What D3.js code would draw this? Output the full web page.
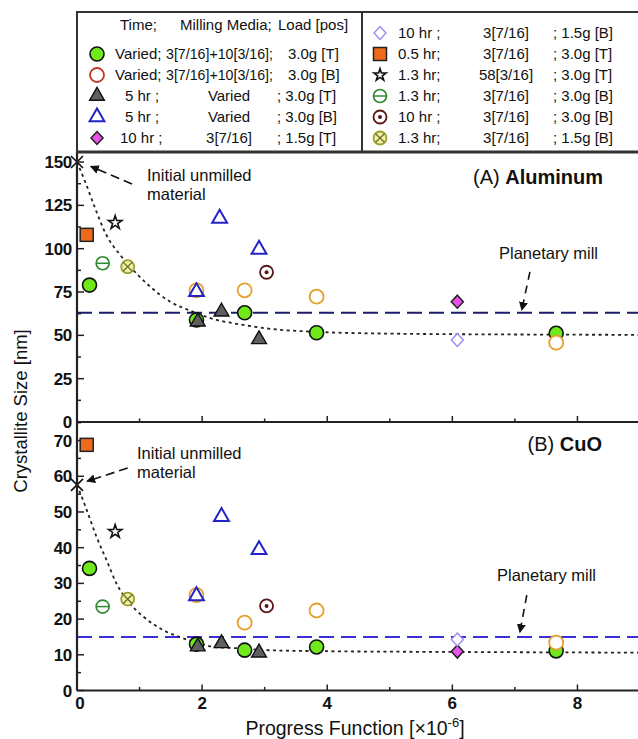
<!DOCTYPE html>
<html>
<head>
<meta charset="utf-8">
<script src="https://cdn.jsdelivr.net/npm/d3@7"></script>
<style>
  body { margin: 0; background: #fff; }
  svg text { font-family: "Liberation Sans", Arial, Helvetica, sans-serif; fill: #111; }
</style>
</head>
<body>
<div id="chart"></div>
<script>
// ---- data ----
// (A) Aluminum, crystallite size [nm] vs progress function [x1e-6]
var al_variedT = [[0.2, 79], [1.91, 58.9], [2.68, 63], [3.83, 51.5], [7.66, 51.2]];
var al_variedB = [[1.91, 76], [2.68, 76], [3.83, 72.3], [7.66, 45.8]];
var al_5hrT = [[1.93, 57.9], [2.31, 63.6], [2.91, 47.7]];
var al_5hrB = [[1.91, 75.2], [2.28, 117.5], [2.91, 99.6]];
var al_10hrT15 = [[6.08, 69.4]];
var al_10hrB15 = [[6.08, 47.3]];
var al_05hrT = [[0.155, 108]];
var al_13hrStar = [[0.61, 115]];
var al_13hrB = [[0.41, 91.6]];
var al_10hrB = [[3.03, 86.4]];
var al_13hrB15 = [[0.81, 89.6]];
var al_initial = [[0, 150]];
var al_fit = [[0, 150], [0.13, 138.7], [0.29, 123.3], [0.47, 107.9], [0.69, 96.4], [0.85, 89.6],
  [1.17, 78.1], [1.49, 69.4], [1.86, 63.6], [2.23, 58.9], [2.5, 57], [3.03, 54], [3.83, 52],
  [5, 51], [7, 50.5], [9, 50.3]];
var al_planetary = 63;

// (B) CuO
var cuo_variedT = [[0.2, 34.2], [1.91, 13], [2.68, 11.3], [3.83, 12.2], [7.66, 11.1]];
var cuo_variedB = [[1.91, 26.7], [2.68, 19], [3.83, 22.4], [7.66, 13.4]];
var cuo_5hrT = [[1.93, 12.3], [2.31, 13.2], [2.91, 10.6]];
var cuo_5hrB = [[1.91, 26.5], [2.31, 48.7], [2.91, 39.4]];
var cuo_10hrT15 = [[6.08, 10.9]];
var cuo_10hrB15 = [[6.08, 14.3]];
var cuo_05hrT = [[0.155, 68.8]];
var cuo_13hrStar = [[0.61, 44.5]];
var cuo_13hrB = [[0.41, 23.5]];
var cuo_10hrB = [[3.03, 23.7]];
var cuo_13hrB15 = [[0.81, 25.6]];
var cuo_initial = [[0, 57.6]];
var cuo_fit = [[0, 57.6], [0.155, 50.6], [0.31, 43.1], [0.47, 36.6], [0.63, 30], [0.82, 24.9],
  [1.06, 20.7], [1.38, 16.9], [1.7, 14.6], [1.96, 13.2], [2.23, 12.1], [2.5, 11.9], [3.03, 11.3],
  [4, 11], [6, 10.8], [9, 10.6]];
var cuo_planetary = 15;

// axis ticks
var xTicks = [0, 2, 4, 6, 8];
var xMinor = [1, 3, 5, 7];
var alTicks = [0, 25, 50, 75, 100, 125, 150];
var cuoTicks = [0, 10, 20, 30, 40, 50, 60, 70];

// legend text
var legendLeftTime = ["Varied;", "Varied;", "5 hr ;", "5 hr ;", "10 hr ;"];
var legendLeftMedia = ["3[7/16]+10[3/16];", "3[7/16]+10[3/16];", "Varied", "Varied", "3[7/16]"];
var legendLeftLoad = ["3.0g [T]", "3.0g [B]", "; 3.0g [T]", "; 3.0g [B]", "; 1.5g [T]"];
var legendLeftShape = ["variedT", "variedB", "tri5T", "tri5B", "diamT"];
var legendRightTime = ["10 hr ;", "0.5 hr;", "1.3 hr;", "1.3 hr;", "10 hr ;", "1.3 hr;"];
var legendRightMedia = ["3[7/16]", "3[7/16]", "58[3/16]", "3[7/16]", "3[7/16]", "3[7/16]"];
var legendRightLoad = ["; 1.5g [B]", "; 3.0g [T]", "; 3.0g [T]", "; 3.0g [B]", "; 3.0g [B]", "; 1.5g [B]"];
var legendRightShape = ["diamB", "square", "star", "theta", "dotc", "crossc"];

// ---- layout ----
const W = 638, H = 739;
const svg = d3.select("#chart").append("svg")
  .attr("width", W).attr("height", H);

const defs = svg.append("defs");
defs.append("marker")
  .attr("id", "arrowhead")
  .attr("viewBox", "0 0 10 10")
  .attr("refX", 9).attr("refY", 5)
  .attr("markerWidth", 9).attr("markerHeight", 9)
  .attr("markerUnits", "userSpaceOnUse")
  .attr("orient", "auto")
  .append("path").attr("d", "M0,0 L10,5 L0,10 Z").attr("fill", "#111");

const x = d3.scaleLinear().domain([0, 9]).range([77, 640]);
const yA = d3.scaleLinear().domain([0, 155.8]).range([422, 152]);
const yB = d3.scaleLinear().domain([0, 75.2]).range([690.5, 422]);

// marker drawing
function drawMarker(g, type, cx, cy, legend) {
  var m = g.append("g").attr("transform", "translate(" + cx + "," + cy + ")");
  if (type == "variedT") {
    m.append("circle").attr("r", 7).attr("fill", "#6fe81c").attr("stroke", "#111").attr("stroke-width", 1.6);
  } else if (type == "variedB") {
    m.append("circle").attr("r", 7).attr("fill", "#fff")
      .attr("stroke", legend ? "#c0392b" : "#e8a02c").attr("stroke-width", 1.8);
  } else if (type == "tri5T" || type == "tri5B") {
    m.append("path").attr("d", d3.symbol(d3.symbolTriangle, 95)())
      .attr("fill", type == "tri5T" ? "#5f5f5f" : "none")
      .attr("stroke", type == "tri5T" ? "#111" : "#2323c8")
      .attr("stroke-width", type == "tri5T" ? 1.4 : 2);
  } else if (type == "diamT" || type == "diamB") {
    m.append("path").attr("d", "M0,-6.5 L6,0 L0,6.5 L-6,0 Z")
      .attr("fill", type == "diamT" ? "#ea50ea" : "#fff")
      .attr("stroke", type == "diamT" ? "#222" : "#9a8cf0")
      .attr("stroke-width", type == "diamT" ? 1.5 : 1.4);
  } else if (type == "square") {
    m.append("rect").attr("x", -6.5).attr("y", -6.5).attr("width", 13).attr("height", 13)
      .attr("fill", "#f06a1e").attr("stroke", "#222").attr("stroke-width", 1.5);
  } else if (type == "star") {
    m.append("path").attr("d", d3.symbol(d3.symbolStar, legend ? 45 : 55)())
      .attr("fill", "#fff").attr("stroke", "#111").attr("stroke-width", 1.6);
  } else if (type == "theta") {
    m.append("circle").attr("r", 6.5).attr("fill", "#fff").attr("stroke", "#2f8a2f").attr("stroke-width", 1.7);
    m.append("line").attr("x1", -6.5).attr("x2", 6.5).attr("stroke", "#2f8a2f").attr("stroke-width", 1.5);
  } else if (type == "dotc") {
    m.append("circle").attr("r", 6.5).attr("fill", "#fff").attr("stroke", "#5a1616").attr("stroke-width", 1.8);
    m.append("circle").attr("r", 2).attr("fill", "#5a1616");
  } else if (type == "crossc") {
    m.append("circle").attr("r", 6.5).attr("fill", "#eef0b0").attr("stroke", "#9aa02a").attr("stroke-width", 1.8);
    m.append("path").attr("d", "M-4.6,-4.6 L4.6,4.6 M-4.6,4.6 L4.6,-4.6")
      .attr("stroke", "#6f741a").attr("stroke-width", 1.4);
  } else if (type == "xmark") {
    m.append("path").attr("d", "M-6,-6 L6,6 M-6,6 L6,-6")
      .attr("stroke", "#111").attr("stroke-width", 1.6);
  }
}

function drawPanel(y, ticks, minorStep, data, fit, planetary, planetaryColor, labels) {
  var g = svg.append("g");
  var y0 = y.range()[0], y1 = y.range()[1];

  // minor + major y ticks (pointing inward)
  var ymax = y.domain()[1];
  for (var v = 0; v <= ymax; v += minorStep) {
    var major = ticks.indexOf(Math.round(v * 10) / 10) >= 0;
    g.append("line").attr("x1", x(0)).attr("x2", x(0) + (major ? 7 : 4))
      .attr("y1", y(v)).attr("y2", y(v)).attr("stroke", "#222").attr("stroke-width", 1.5);
  }
  g.selectAll(".ylab").data(ticks).enter().append("text")
    .attr("x", 72).attr("y", d => y(d) + 6)
    .attr("text-anchor", "end").attr("font-size", 17).attr("font-weight", "bold")
    .attr("letter-spacing", -0.3)
    .text(d => d);

  // x ticks on bottom axis (inward)
  xTicks.concat(xMinor).forEach(function (t) {
    var major = xTicks.indexOf(t) >= 0;
    g.append("line").attr("x1", x(t)).attr("x2", x(t))
      .attr("y1", y0).attr("y2", y0 - (major ? 6 : 3.5)).attr("stroke", "#222").attr("stroke-width", 1.5);
  });

  // planetary mill reference line
  g.append("line").attr("x1", x(0)).attr("x2", x(9))
    .attr("y1", y(planetary)).attr("y2", y(planetary))
    .attr("stroke", planetaryColor).attr("stroke-width", 2).attr("stroke-dasharray", "15,7");

  // fitted dotted curve
  g.append("path").datum(fit)
    .attr("d", d3.line().x(d => x(d[0])).y(d => y(d[1])).curve(d3.curveMonotoneX))
    .attr("fill", "none").attr("stroke", "#222").attr("stroke-width", 1.8).attr("stroke-dasharray", "3,3.5");

  // points
  data.forEach(function (s) {
    s.values.forEach(d => drawMarker(g, s.shape, x(d[0]), y(d[1]), false));
  });

  // axes lines
  g.append("line").attr("x1", x(0)).attr("x2", x(9) + 5).attr("y1", y0).attr("y2", y0)
    .attr("stroke", "#222").attr("stroke-width", 2.2);
  g.append("line").attr("x1", x(0)).attr("x2", x(0)).attr("y1", y0).attr("y2", y1)
    .attr("stroke", "#222").attr("stroke-width", 2.2);

  // annotations
  var lab = labels;
  var t = g.append("text").attr("x", lab.titleX).attr("y", lab.titleY).attr("text-anchor", "end").attr("font-size", 20);
  t.append("tspan").text(lab.titleA + " ");
  t.append("tspan").attr("font-weight", "bold").text(lab.titleB);

  g.append("text").attr("x", lab.initX).attr("y", lab.initY).attr("font-size", 16.5).text("Initial unmilled");
  g.append("text").attr("x", lab.initX).attr("y", lab.initY + 19).attr("font-size", 16.5).text("material");
  g.append("line").attr("x1", x(lab.initArrow[0])).attr("y1", y(lab.initArrow[1]))
    .attr("x2", x(lab.initArrow[2])).attr("y2", y(lab.initArrow[3]))
    .attr("stroke", "#111").attr("stroke-width", 1.6).attr("stroke-dasharray", "9,5")
    .attr("marker-end", "url(#arrowhead)");

  g.append("text").attr("x", lab.planX).attr("y", lab.planY).attr("font-size", 16.5).text("Planetary mill");
  g.append("line").attr("x1", x(lab.planArrow[0])).attr("y1", y(lab.planArrow[1]))
    .attr("x2", x(lab.planArrow[2])).attr("y2", y(lab.planArrow[3]))
    .attr("stroke", "#111").attr("stroke-width", 1.6).attr("stroke-dasharray", "8,6")
    .attr("marker-end", "url(#arrowhead)");
  return g;
}

drawPanel(yA, alTicks, 12.5, [
  { shape: "variedT", values: al_variedT },
  { shape: "variedB", values: al_variedB },
  { shape: "tri5T", values: al_5hrT },
  { shape: "tri5B", values: al_5hrB },
  { shape: "diamT", values: al_10hrT15 },
  { shape: "diamB", values: al_10hrB15 },
  { shape: "square", values: al_05hrT },
  { shape: "star", values: al_13hrStar },
  { shape: "theta", values: al_13hrB },
  { shape: "dotc", values: al_10hrB },
  { shape: "crossc", values: al_13hrB15 },
  { shape: "xmark", values: al_initial }
], al_fit, al_planetary, "#1c1c6a", {
  titleA: "(A)", titleB: "Aluminum", titleX: 603, titleY: 184,
  initX: 147, initY: 181, initArrow: [0.88, 137.3, 0.22, 147.5],
  planX: 499, planY: 259, planArrow: [7.24, 86.6, 7.11, 64.5]
});

drawPanel(yB, cuoTicks, 5, [
  { shape: "variedT", values: cuo_variedT },
  { shape: "variedB", values: cuo_variedB },
  { shape: "tri5T", values: cuo_5hrT },
  { shape: "tri5B", values: cuo_5hrB },
  { shape: "diamT", values: cuo_10hrT15 },
  { shape: "diamB", values: cuo_10hrB15 },
  { shape: "square", values: cuo_05hrT },
  { shape: "star", values: cuo_13hrStar },
  { shape: "theta", values: cuo_13hrB },
  { shape: "dotc", values: cuo_10hrB },
  { shape: "crossc", values: cuo_13hrB15 },
  { shape: "xmark", values: cuo_initial }
], cuo_fit, cuo_planetary, "#3a30d8", {
  titleA: "(B)", titleB: "CuO", titleX: 602, titleY: 451,
  initX: 137, initY: 459, initArrow: [0.81, 62.3, 0.16, 58.6],
  planX: 497, planY: 581, planArrow: [7.19, 26.7, 7.08, 16.3]
});

// x tick labels (bottom panel only)
svg.selectAll(".xlab").data(xTicks).enter().append("text")
  .attr("x", d => x(d) + (d == 0 ? 3 : 0)).attr("y", 709)
  .attr("text-anchor", "middle").attr("font-size", 17).attr("font-weight", "bold")
  .text(d => d);

// axis titles
var xt = svg.append("text").attr("x", 355).attr("y", 735).attr("text-anchor", "middle").attr("font-size", 19.5);
xt.append("tspan").text("Progress Function [\u00d710");
xt.append("tspan").attr("font-size", 13).attr("dy", -8).text("-6");
xt.append("tspan").attr("dy", 8).text("]");

svg.append("text").attr("transform", "translate(27,411) rotate(-90)")
  .attr("text-anchor", "middle").attr("font-size", 18.5).text("Crystallite Size [nm]");

// ---- legend box ----
var lg = svg.append("g");
lg.append("rect").attr("x", 77).attr("y", 12).attr("width", 600).attr("height", 140)
  .attr("fill", "none").attr("stroke", "#333").attr("stroke-width", 2);
lg.append("line").attr("x1", 362).attr("x2", 362).attr("y1", 12).attr("y2", 152)
  .attr("stroke", "#333").attr("stroke-width", 2);
svg.append("line").attr("x1", 77).attr("x2", 640).attr("y1", 152).attr("y2", 152)
  .attr("stroke", "#333").attr("stroke-width", 3);

var fs = 15;
lg.append("text").attr("x", 120).attr("y", 30).attr("font-size", fs).text("Time;");
lg.append("text").attr("x", 180).attr("y", 30).attr("font-size", fs).text("Milling Media;");
lg.append("text").attr("x", 278).attr("y", 30).attr("font-size", fs).text("Load [pos]");

legendLeftShape.forEach(function (s, i) {
  var cy = 54 + i * 21;
  drawMarker(lg, s, 97, cy, true);
  if (i < 2) {
    lg.append("text").attr("x", 115).attr("y", cy + 5).attr("font-size", fs).text(legendLeftTime[i]);
    lg.append("text").attr("x", 166).attr("y", cy + 5).attr("font-size", fs)
      .attr("textLength", 107).attr("lengthAdjust", "spacingAndGlyphs").text(legendLeftMedia[i]);
    lg.append("text").attr("x", 288).attr("y", cy + 5).attr("font-size", fs).text(legendLeftLoad[i]);
  } else {
    lg.append("text").attr("x", i == 4 ? 120 : 125).attr("y", cy + 5).attr("font-size", fs).text(legendLeftTime[i]);
    lg.append("text").attr("x", 229).attr("y", cy + 5).attr("text-anchor", "middle").attr("font-size", fs).text(legendLeftMedia[i]);
    lg.append("text").attr("x", 277).attr("y", cy + 5).attr("font-size", fs).text(legendLeftLoad[i]);
  }
});

legendRightShape.forEach(function (s, i) {
  var cy = 33 + i * 21;
  drawMarker(lg, s, 380, cy, true);
  lg.append("text").attr("x", 398).attr("y", cy + 5).attr("font-size", fs).text(legendRightTime[i]);
  lg.append("text").attr("x", 506).attr("y", cy + 5).attr("text-anchor", "middle").attr("font-size", fs).text(legendRightMedia[i]);
  lg.append("text").attr("x", 553).attr("y", cy + 5).attr("font-size", fs).text(legendRightLoad[i]);
});
</script>
</body>
</html>
